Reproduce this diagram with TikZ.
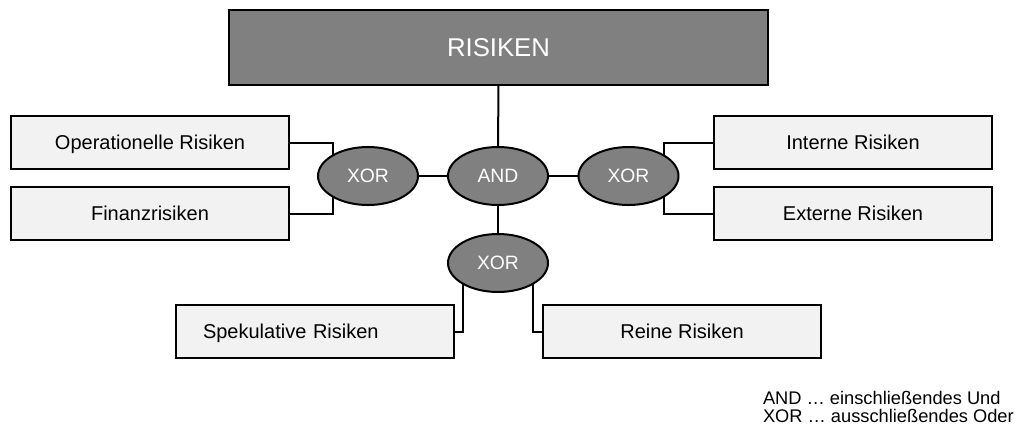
\documentclass[tikz,border=0pt]{standalone}
\usepackage{fontspec}
\setmainfont{Liberation Sans}
\usetikzlibrary{shapes.geometric}
\definecolor{gatefill}{RGB}{128,128,128}
\definecolor{boxfill}{RGB}{242,242,242}
\begin{document}
\begin{tikzpicture}[x=0.75pt,y=-0.75pt,
  line width=1.5pt,
  riskbox/.style={draw=black, fill=boxfill, minimum width=208.5pt, minimum height=39.75pt,
    inner sep=0pt, outer sep=0pt, text height=10.74pt, text depth=0pt,
    font=\fontsize{15}{18}\selectfont},
  gate/.style={ellipse, draw=black, fill=gatefill, minimum width=75pt, minimum height=43.5pt,
    inner sep=0pt, outer sep=0pt, text=white, text height=10.38pt, text depth=0pt,
    font=\fontsize{14.5}{17}\selectfont},
  topbox/.style={draw=black, fill=gatefill, minimum width=404.25pt, minimum height=56.25pt,
    inner sep=0pt, outer sep=0pt, text=white, text height=13.8pt, text depth=0pt,
    font=\fontsize{19.3}{23}\selectfont},
  link/.style={draw=black, line width=1.5pt}]
\useasboundingbox (0,0) rectangle (1018,430);

% root and logical gates
\node[topbox] (root) at (498.5,47.5) {RISIKEN};
\node[gate] (and) at (498,176) {AND};
\node[gate] (xl) at (368,176) {XOR};
\node[gate] (xr) at (628.5,176) {XOR};
\node[gate] (xb) at (498,263) {XOR};

% risk categories
\node[riskbox] (op) at (150,142.5) {Operationelle Risiken};
\node[riskbox] (fin) at (150,213.5) {Finanzrisiken};
\node[riskbox] (int) at (853,142.5) {Interne Risiken};
\node[riskbox] (ext) at (853,213.5) {Externe Risiken};
\node[riskbox, text width=168pt, align=left, inner xsep=20.25pt] (spek) at (315,331.5) {Spekulative Risiken};
\node[riskbox] (rein) at (682,331.5) {Reine Risiken};

% connectors
\draw[link] (root.south) -- (and.north);
\draw[link] (xl.east) -- (and.west);
\draw[link] (and.east) -- (xr.west);
\draw[link] (and.south) -- (xb.north);
\draw[link] (op.east) -| (xl.north west);
\draw[link] (fin.east) -| (xl.south west);
\draw[link] (int.west) -| (xr.north east);
\draw[link] (ext.west) -| (xr.south east);
\draw[link] (spek.east) -| (xb.south west);
\draw[link] (rein.west) -| (xb.south east);

% legend
\node[anchor=west, align=left, inner sep=0pt, font=\fontsize{13.7}{13.5}\selectfont] (legend) at (762,407)
  {AND … einschließendes Und\\XOR … ausschließendes Oder};
\end{tikzpicture}
\end{document}
